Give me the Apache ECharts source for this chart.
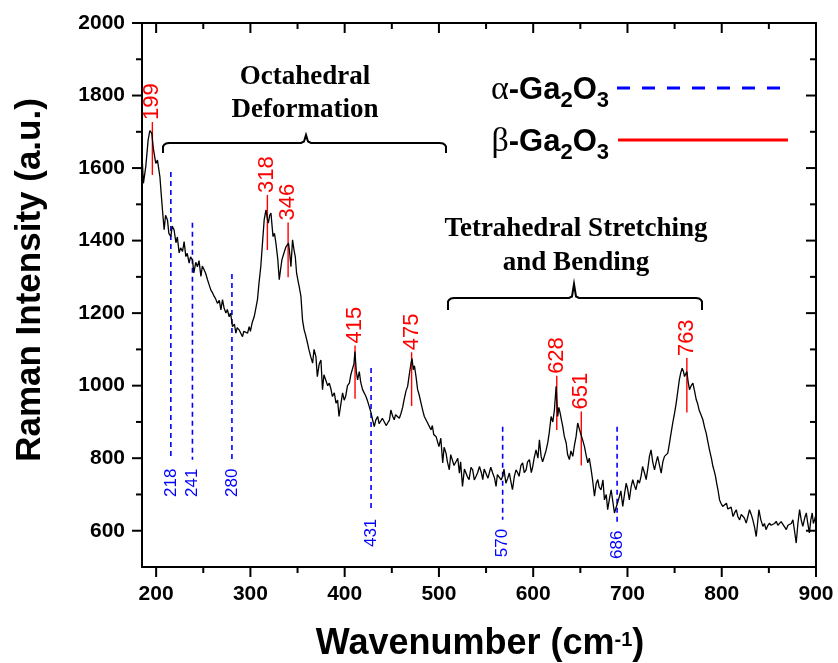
<!DOCTYPE html>
<html>
<head>
<meta charset="utf-8">
<script src="https://cdn.jsdelivr.net/npm/echarts@6/dist/echarts.min.js"></script>
<style>
  html, body { margin: 0; padding: 0; background: #fff; }
  #main { width: 838px; height: 663px; }
</style>
</head>
<body>
<div id="main"></div>
<script>
// Raman spectrum: [wavenumber, intensity]
const spectrum = [
  [185,1636],[186.5,1558],[189,1604],[191.5,1677],[193.3,1703],[195.4,1696],[197,1655],[199.6,1613],[201.4,1622],[204,1576],
  [205.6,1521],[206.7,1485],[208.5,1430],[210,1470],[212,1457],[213.5,1420],[215.6,1411],[217,1440],[219,1430],[221,1394],
  [222.5,1410],[224.4,1366],[226,1380],[228,1370],[229.7,1397],[231.5,1356],[233,1365],[235,1338],[236.5,1355],[238.5,1347],
  [240,1311],[242,1340],[243.8,1328],[245.5,1345],[247.5,1301],[249,1330],[251,1319],[252.5,1310],[254.5,1292],[256,1280],
  [258,1264],[260,1255],[261.6,1246],[263,1240],[265,1227],[267,1235],[268.7,1209],[270.4,1237],[272,1215],[274,1200],
  [275.5,1210],[277.5,1190],[279,1200],[281,1163],[283,1170],[284.6,1145],[286,1160],[288,1154],[290,1150],[291.6,1135],
  [293,1150],[295,1154],[297,1145],[298.7,1163],[300,1150],[302,1175],[304,1190],[305.5,1210],[307.5,1237],[309,1280],
  [311,1328],[313,1400],[314.6,1457],[316.5,1485],[318,1460],[319,1448],[320.5,1470],[321.8,1476],[323,1440],[324,1411],
  [325.5,1420],[327,1394],[329,1350],[330.6,1292],[332,1320],[333.4,1347],[335.5,1365],[337.7,1383],[340.4,1393],[341.5,1370],
  [343,1328],[344.7,1402],[346.5,1370],[347.6,1356],[349,1310],[351,1283],[352,1270],[353.6,1246],[355.3,1181],[357,1154],
  [358.5,1140],[360.6,1117],[362,1100],[364,1080],[366,1062],[367.5,1100],[369.5,1080],[371,1025],[373,1060],[374.8,1071],
  [376.5,989],[378,1030],[380,1025],[382,1000],[383.7,1007],[385.5,990],[387,970],[389,980],[390.8,952],[392.5,960],
  [394,915],[396,950],[397.8,980],[399.5,960],[401,970],[403,1000],[405,1007],[406.5,1030],[408.4,1025],[409.8,1060],
  [410.9,1094],[412.3,1040],[413.7,1016],[415.5,1039],[417,1010],[419,989],[420.8,990],[422.6,970],[424,960],[426,943],
  [428,925],[429.6,906],[431.4,887],[433,905],[435,915],[436.5,895],[438.5,897],[440,910],[442,915],[444,890],
  [445.6,897],[447.5,905],[449,933],[451,915],[452.6,906],[454,920],[456,924],[458,910],[459.8,924],[461.5,940],
  [463,961],[465,985],[466.8,998],[468.5,1030],[470.4,1062],[471.5,1075],[472.8,1044],[474,1055],[475.7,1025],[477.4,989],
  [479,975],[481,952],[483,930],[484.5,915],[486,920],[488,897],[490,900],[491.6,878],[493,890],[494.5,865],
  [496.9,860],[500,832],[502,855],[504,787],[505.5,830],[507.5,814],[509,790],[511,768],[512.5,810],[514.5,805],
  [516,780],[518,777],[520,800],[521.7,759],[523,790],[525,722],[527,770],[528.8,768],[530,750],[532,741],
  [534,775],[535.8,768],[537.5,740],[539.4,750],[541,760],[543,777],[545,760],[546.5,741],[548,770],[550,768],
  [552,745],[553.5,750],[555,775],[557,759],[559,745],[560.6,722],[562,755],[564,759],[566,740],[567.6,750],
  [569,770],[571,731],[573,745],[574.7,759],[576,740],[578,713],[580,750],[581.8,768],[583.5,760],[585,750],
  [587,780],[588.8,787],[590.5,760],[592.5,768],[594,790],[596,796],[598,760],[599.5,777],[601,800],[603,823],
  [605,800],[606.6,851],[608.4,805],[610,790],[611.9,787],[613.5,820],[615.4,842],[617,870],[619,915],[620.8,900],
  [622.5,933],[624.3,998],[626,915],[627.2,940],[628.6,924],[630,905],[631.4,887],[633,860],[635,842],[636.5,810],
  [638.4,796],[640,820],[642,805],[643.7,835],[645.5,860],[647.2,897],[649,880],[650.8,878],[652.5,850],[654.4,832],
  [656,810],[657.9,787],[659.5,800],[661.5,768],[663,740],[665,695],[666.8,730],[668.5,741],[670,720],[672,713],
  [674,740],[675.6,685],[677.5,700],[679,658],[681,690],[682.7,713],[684.5,680],[686.2,649],[688,649],[689.8,680],
  [691.5,695],[693,710],[695,667],[696.8,700],[698.6,731],[700.2,715],[702,685],[703.8,720],[705.6,741],[707.3,725],
  [709,713],[711,740],[712.7,731],[714.4,750],[716,777],[718,760],[719.8,741],[721.5,770],[723.3,805],[725,823],
  [726.8,790],[728.7,768],[730.5,790],[732,805],[734,780],[735.8,759],[737.5,790],[739.3,805],[741,800],[742.8,814],
  [744.6,842],[746.3,870],[748,897],[750,925],[751.7,952],[753.4,985],[755,1016],[756.5,1035],[758,1048],[759.3,1040],
  [760.5,1025],[761.8,1030],[763,1039],[764.4,1010],[765.8,989],[767.6,1000],[769.4,1007],[771.2,985],[773,961],[774.5,950],
  [776,933],[778,920],[780,906],[781.8,885],[783.5,869],[785.3,845],[787,823],[789,800],[790.7,777],[792,765],
  [793.4,750],[794.7,730],[796,713],[797.7,685],[799.3,675],[801,667],[803,665],[805,676],[806.5,660],[808,658],
  [810,665],[812,639],[813.8,650],[815.4,658],[817,640],[819,630],[820.7,645],[822.4,649],[824,635],[826,621],
  [827.8,640],[829.5,658],[831.3,645],[833,630],[834.8,610],[836.6,584],[838,620],[839.4,658],[841.5,630],[843.7,612],
  [845.3,620],[847,603],[849,615],[850.7,621],[852.3,615],[854,612],[856,620],[857.8,626],[859.5,615],[861,617],
  [863,625],[865,621],[866.8,610],[868.5,603],[870.2,615],[872,612],[873.8,620],[875.5,630],[877.2,600],[879,566],
  [880.8,620],[882.6,658],[884.3,630],[886,612],[888,635],[889.7,649],[891.3,620],[893,594],[894.5,630],[896,649],
  [897.2,620],[898.5,630],[900,645]
];

// beta-Ga2O3 peaks (red solid markers)
const betaPos = [196, 318, 340, 411, 471, 625, 651, 763];
const betaLabels = ['199', '318', '346', '415', '475', '628', '651', '763'];
const betaTop = [1727, 1526, 1450, 1111, 1092, 1027, 929, 1076];
const betaBottom = [1581, 1374, 1299, 964, 944, 878, 780, 926];

// alpha-Ga2O3 modes (blue dashed markers)
const alphaPos = [215.6, 238.5, 280.4, 428, 567.6, 689];
const alphaLabels = ['218', '241', '280', '431', '570', '686'];
const alphaTop = [1589, 1449, 1308, 1049, 887, 887];
const alphaBottom = [796, 796, 796, 658, 630, 625];

const xMin = 185, xMax = 900, yMin = 500, yMax = 2000;
const xMajor = [200, 300, 400, 500, 600, 700, 800, 900];
const xMinor = [250, 350, 450, 550, 650, 750, 850];
const yMajor = [600, 800, 1000, 1200, 1400, 1600, 1800, 2000];
const yMinor = [700, 900, 1100, 1300, 1500, 1700, 1900];

const sans = 'Arial, "Liberation Sans", sans-serif';
const serif = '"Times New Roman", "Liberation Serif", serif';
const grid = { left: 142, right: 22, top: 23, bottom: 96 };

const chart = echarts.init(document.getElementById('main'));

function frameAxis(pos, min, max, labels) {
  return {
    type: 'value', position: pos, min: min, max: max,
    axisLine: { show: true, onZero: false, lineStyle: { color: '#000', width: 2 } },
    axisTick: { show: false },
    axisLabel: labels ? {
      customValues: labels, color: '#000', fontSize: 21, fontWeight: 'bold', fontFamily: sans,
      margin: 17, formatter: v => String(v)
    } : { show: false },
    splitLine: { show: false }
  };
}

function markers(color, dashed, fontSize, above, labels) {
  return function (params, api) {
    const x = api.value(0);
    const top = api.coord([x, api.value(1)]);
    const bot = api.coord([x, api.value(2)]);
    const txt = above
      ? { type: 'text', x: top[0], y: top[1] - 2, rotation: Math.PI / 2,
          style: { text: labels[params.dataIndex], fill: color, font: fontSize + 'px ' + sans, align: 'left', verticalAlign: 'middle' } }
      : { type: 'text', x: bot[0], y: bot[1] + 9, rotation: Math.PI / 2,
          style: { text: labels[params.dataIndex], fill: color, font: fontSize + 'px ' + sans, align: 'right', verticalAlign: 'middle' } };
    return {
      type: 'group',
      children: [
        { type: 'line', shape: { x1: top[0], y1: top[1], x2: bot[0], y2: bot[1] },
          style: { stroke: color, lineWidth: dashed ? 1.6 : 1.4, lineDash: dashed ? [5, 4] : null } },
        txt
      ]
    };
  };
}

// small rounded bracket as a polyline
function bracket(x1, x2, xc, y, yEnd, yTip) {
  const r = 6;
  return [
    [x1, yEnd], [x1, y + r * 0.6], [x1 + 1, y + 2], [x1 + 3, y + 0.5], [x1 + r, y],
    [xc - 5, y], [xc - 2, y - 1.5], [xc, yTip], [xc + 2, y - 1.5], [xc + 5, y],
    [x2 - r, y], [x2 - 3, y + 0.5], [x2 - 1, y + 2], [x2, y + r * 0.6], [x2, yEnd]
  ];
}

// frame ticks from the same linear scale as the grid: bottom/left point out, top/right point in
const W = 838 - grid.left - grid.right, H = 663 - grid.top - grid.bottom;
const px = v => grid.left + (v - xMin) / (xMax - xMin) * W;
const py = v => grid.top + (yMax - v) / (yMax - yMin) * H;
const tickLines = [];
function seg(x1, y1, x2, y2) {
  tickLines.push({ type: 'line', z: 100, shape: { x1: x1, y1: y1, x2: x2, y2: y2 }, style: { stroke: '#000', lineWidth: 2 } });
}
function xTick(v, len) {
  seg(px(v), py(yMin), px(v), py(yMin) + len);
  seg(px(v), py(yMax), px(v), py(yMax) + len);
}
function yTick(v, len) {
  seg(px(xMin) - len, py(v), px(xMin), py(v));
  seg(px(xMax) - len, py(v), px(xMax), py(v));
}
xMajor.forEach(v => xTick(v, 10));
xMinor.forEach(v => xTick(v, 6));
yMajor.forEach(v => yTick(v, 10));
yMinor.forEach(v => yTick(v, 6));

const legendRich = {
  g: { fontSize: 34, fontFamily: serif, fontWeight: 'normal' },
  s: { fontSize: 22, fontWeight: 'bold', fontFamily: sans, verticalAlign: 'bottom' }
};

const graphicEls = [
  // axis titles
  { type: 'text', x: 30, y: 280, rotation: Math.PI / 2,
    style: { text: 'Raman Intensity (a.u.)', fill: '#000', font: 'bold 35px ' + sans, align: 'center', verticalAlign: 'middle' } },
  { type: 'text', x: 480, y: 644,
    style: { text: 'Wavenumber (cm{sup|-1})', fill: '#000', font: 'bold 36px ' + sans, align: 'center', verticalAlign: 'middle',
      rich: { sup: { fontSize: 20, fontWeight: 'bold', fontFamily: sans, padding: [0, 0, 8, 0] } } } },
  // region labels
  { type: 'text', x: 305, y: 94,
    style: { text: 'Octahedral\nDeformation', fill: '#000', font: 'bold 27px ' + serif, lineHeight: 33, align: 'center', verticalAlign: 'middle' } },
  { type: 'text', x: 576, y: 246,
    style: { text: 'Tetrahedral Stretching\nand Bending', fill: '#000', font: 'bold 27px ' + serif, lineHeight: 34, align: 'center', verticalAlign: 'middle' } },
  // brackets
  { type: 'polyline', shape: { points: bracket(163, 446, 306, 143, 153, 135) },
    style: { stroke: '#000', lineWidth: 2, fill: null } },
  { type: 'polyline', shape: { points: bracket(448, 702, 574, 298, 310, 284) },
    style: { stroke: '#000', lineWidth: 2, fill: null } },
  // legend
  { type: 'text', x: 609, y: 90,
    style: { text: '{g|α}-Ga{s|2}O{s|3}', fill: '#000', font: 'bold 31px ' + sans, lineHeight: 44, align: 'right', verticalAlign: 'middle', rich: legendRich } },
  { type: 'line', shape: { x1: 617, y1: 88, x2: 787, y2: 88 }, style: { stroke: '#0000ff', lineWidth: 3, lineDash: [13, 12] } },
  { type: 'text', x: 609, y: 142,
    style: { text: '{g|β}-Ga{s|2}O{s|3}', fill: '#000', font: 'bold 31px ' + sans, lineHeight: 44, align: 'right', verticalAlign: 'middle', rich: legendRich } },
  { type: 'line', shape: { x1: 618, y1: 140, x2: 788, y2: 140 }, style: { stroke: '#ff0000', lineWidth: 3 } }
].concat(tickLines);

chart.setOption({
  animation: false,
  backgroundColor: '#fff',
  grid: Object.assign({ containLabel: false }, grid),
  xAxis: [frameAxis('bottom', xMin, xMax, xMajor), frameAxis('top', xMin, xMax, null)],
  yAxis: [frameAxis('left', yMin, yMax, yMajor), frameAxis('right', yMin, yMax, null)],
  series: [
    {
      type: 'line', xAxisIndex: 0, yAxisIndex: 0, data: spectrum,
      showSymbol: false, symbol: 'none',
      lineStyle: { color: '#000', width: 1.3 }
    },
    {
      type: 'custom', xAxisIndex: 0, yAxisIndex: 0,
      data: betaPos.map((x, i) => [x, betaTop[i], betaBottom[i]]),
      renderItem: markers('#ff0000', false, 22, true, betaLabels)
    },
    {
      type: 'custom', xAxisIndex: 0, yAxisIndex: 0,
      data: alphaPos.map((x, i) => [x, alphaTop[i], alphaBottom[i]]),
      renderItem: markers('#0000ff', true, 17, false, alphaLabels)
    }
  ],
  graphic: graphicEls
});
</script>
</body>
</html>
